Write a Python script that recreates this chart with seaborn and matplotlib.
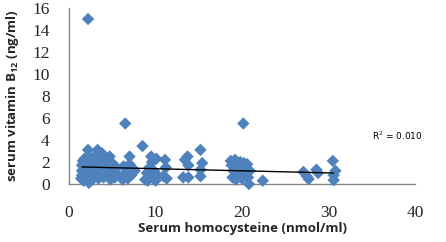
import matplotlib
matplotlib.use("Agg")
import matplotlib.pyplot as plt
import seaborn as sns
import pandas as pd

# Serum homocysteine (nmol/ml)
hcy = [1.4, 1.5, 1.5, 1.6, 1.5, 1.7, 1.8, 1.9, 2.0, 2.0, 2.1,
       2.2, 2.2, 2.3, 2.3, 2.4, 2.5, 2.6, 2.7, 2.8, 2.8,
       3.1, 3.3, 3.4, 3.4, 3.5, 3.6, 3.8, 3.9, 4.0, 4.0,
       4.4, 4.5, 4.6, 4.7, 4.8, 5.0, 5.1, 5.3, 5.5,
       5.9, 6.2, 6.3, 6.5, 6.6, 6.8, 7.0, 7.0, 7.2, 7.4, 7.6,
       8.5, 8.8, 9.0, 9.1, 9.3, 9.5, 9.6, 9.7, 9.8, 10.0, 10.1, 10.2,
       10.9, 11.1, 11.2, 11.3,
       13.2, 13.4, 13.7, 13.8, 13.8,
       15.2, 15.4, 15.2, 15.2,
       18.7, 18.8, 18.9, 19.0, 19.2, 19.3, 19.5, 19.6, 19.8, 19.9, 20.0,
       20.15, 20.2, 20.3, 20.4, 20.6, 20.7, 20.8, 20.9,
       22.4,
       27.1, 27.5, 27.7, 28.6, 28.8,
       30.5, 30.8, 30.6, 30.6]
# Serum vitamin B12 (ng/ml)
b12 = [0.5, 0.8, 1.7, 2.1, 1.2, 0.3, 2.3, 1.0, 0.6, 1.6, 2.0,
       15.0, 3.1, 0.1, 1.3, 0.7, 2.4, 1.8, 0.4, 1.1, 2.1,
       2.6, 3.1, 0.5, 1.5, 2.2, 0.9, 2.8, 1.8, 0.6, 1.3,
       2.2, 0.9, 1.6, 2.5, 0.4, 1.9, 1.1, 0.6, 1.5,
       0.7, 0.4, 1.6, 5.5, 1.0, 0.5, 2.5, 1.8, 0.8, 1.4, 1.2,
       3.45, 0.4, 1.0, 0.3, 1.5, 2.5, 2.0, 0.6, 1.2, 0.3, 2.3, 0.8,
       0.7, 2.2, 1.5, 0.5,
       0.6, 2.2, 2.5, 1.7, 0.6,
       3.1, 1.9, 1.3, 0.7,
       2.1, 1.7, 0.6, 1.2, 2.2, 0.4, 1.6, 0.9, 2.0, 1.3, 0.5,
       5.5, 1.9, 0.8, 1.5, 1.8, 0.6, 0.0, 1.2,
       0.3,
       1.1, 0.7, 0.45, 1.3, 1.0,
       2.1, 1.2, 0.35, 0.8]

# Linear trend line
trend_x = [1.5, 30.6]
trend_y = [1.55, 1.0]
r2_label = "R$^2$ = 0.010"

x_ticks = [0, 10, 20, 30, 40]
y_ticks = [0, 2, 4, 6, 8, 10, 12, 14, 16]

df = pd.DataFrame({"hcy": hcy, "b12": b12})

sns.set_style("white")
plt.rcParams["font.family"] = ["Open Sans", "DejaVu Sans"]
plt.rcParams["mathtext.fontset"] = "custom"
plt.rcParams["mathtext.rm"] = "Open Sans"
plt.rcParams["mathtext.bf"] = "Open Sans:bold"

fig = plt.figure(figsize=(4.46, 2.42), dpi=100)
ax = fig.add_axes([69 / 446, (242 - 184) / 242, (415 - 69) / 446, (184 - 8) / 242])

sns.scatterplot(data=df, x="hcy", y="b12", marker="D", s=40, color="#4F81BD",
                edgecolor="none", linewidth=0, ax=ax, clip_on=False, zorder=3)
sns.lineplot(x=trend_x, y=trend_y, color="black", linewidth=1.0, ax=ax, zorder=4)

ax.set_xlim(0, 40)
ax.set_ylim(0, 16)
ax.set_xticks(x_ticks)
ax.set_yticks(y_ticks)
for sp in ["top", "right"]:
    ax.spines[sp].set_visible(False)
for sp in ["left", "bottom"]:
    ax.spines[sp].set_color("#868686")
    ax.spines[sp].set_linewidth(1.0)
ax.tick_params(axis="x", direction="out", length=5, width=1, color="#868686", pad=10)
ax.tick_params(axis="y", direction="out", length=4, width=1, color="#868686", pad=10)
for lab in ax.get_xticklabels() + ax.get_yticklabels():
    lab.set_fontfamily("Liberation Serif")
    lab.set_fontsize(12.5)

ax.set_xlabel("Serum homocysteine (nmol/ml)", fontsize=9.5, fontweight="bold")
ax.set_ylabel(r"serum vitamin $\mathbf{B_{12}}$ (ng/ml)", fontsize=9.5, fontweight="bold")
ax.xaxis.set_label_coords(0.5, -0.215)
ax.yaxis.set_label_coords(-0.138, 0.5)

fig.text(372 / 446, 1 - 136 / 242, r2_label, fontsize=6.5, color="black",
         family="DejaVu Sans", va="center", ha="left")

fig.savefig("out.png", dpi=100)
